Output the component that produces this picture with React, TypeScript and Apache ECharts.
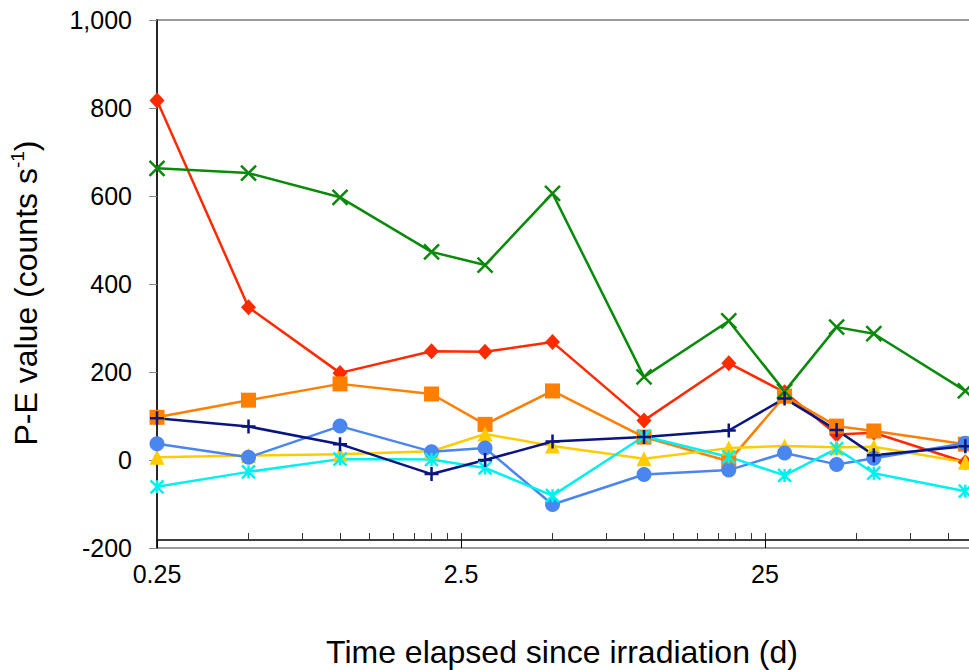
import React, { useEffect, useRef } from 'react';
import * as echarts from 'echarts';

const FONT = '"Liberation Sans", Arial, Helvetica, sans-serif';

// Time elapsed since irradiation (days)
const days = [0.25, 0.5, 1, 2, 3, 5, 10, 19, 29, 43, 57, 114];

// P-E values (counts s-1)
const redDiamond = [817, 347, 198, 247, 246, 268, 90, 220, 154, 58, 62, -5];
const greenCross = [663, 652, 597, 473, 443, 606, 189, 316, 156, 302, 287, 157];
const orangeSquare = [97, 136, 173, 150, 81, 157, 52, -3, 145, 77, 66, 36];
const navyPlus = [95, 76, 36, -32, 0, 42, 52, 67, 140, 68, 11, 31];
const blueCircle = [37, 6, 77, 19, 27, -101, -33, -23, 16, -10, 4, 38];
const yellowTriangle = [6, 10, 13, 20, 59, 32, 3, 27, 32, 29, 30, -5];
const cyanAsterisk = [-61, -27, 2, 1, -18, -81, 54, 7, -35, 26, -30, -71];

// Axis ticks
const xMajorTicks = [0.25, 2.5, 25];
const xMinorMultipliers = [1, 2, 3, 4, 5, 6, 7, 8, 9];
const yMin = -200;
const yMax = 1000;
const yStep = 200;

const X_SYMBOL = 'path://M0,0L10,10M10,0L0,10';
const PLUS_SYMBOL = 'path://M5,0L5,10M0,5L10,5';
const ASTERISK_SYMBOL = 'path://M5,0L5,10M0,0L10,10M10,0L0,10';

const pairs = (vals: number[]) => days.map((d, i) => [d, vals[i]]);

export default function App() {
  const ref = useRef<HTMLDivElement>(null);

  useEffect(() => {
    if (!ref.current) return;
    const chart = echarts.init(ref.current, undefined, { renderer: 'svg' });

    const allTicks: number[] = [];
    xMajorTicks.forEach((base) => {
      xMinorMultipliers.forEach((m) => allTicks.push(base * m));
    });
    allTicks.push(250);

    const filledSeries = (name: string, vals: number[], color: string, symbol: string, size: number | number[]) => ({
      name,
      type: 'line',
      data: pairs(vals),
      symbol,
      symbolSize: size,
      lineStyle: { color, width: 2.5 },
      itemStyle: { color, borderWidth: 0 },
      emphasis: { disabled: true },
    });
    const strokeSeries = (name: string, vals: number[], color: string, symbol: string, size: number) => ({
      name,
      type: 'line',
      data: pairs(vals),
      symbol,
      symbolSize: size,
      lineStyle: { color, width: 2.5 },
      itemStyle: { color, borderColor: color, borderWidth: 2.5 },
      emphasis: { disabled: true },
    });

    const option: any = {
      animation: false,
      backgroundColor: '#ffffff',
      grid: {
        left: 157,
        top: 20,
        bottom: 122,
        right: -100,
        show: true,
        borderColor: '#9a9a9a',
        borderWidth: 2,
        backgroundColor: 'transparent',
        containLabel: false,
        outerBoundsMode: 'none',
      },
      xAxis: [
        {
          type: 'log',
          logBase: 10,
          min: 0.25,
          max: 250,
          position: 'bottom',
          offset: -8,
          axisLine: { show: true, onZero: false, lineStyle: { color: '#000', width: 1.5 } },
          axisTick: {
            show: true,
            inside: false,
            length: 8,
            customValues: xMajorTicks,
            lineStyle: { color: '#000', width: 1 },
          },
          axisLabel: {
            show: true,
            customValues: xMajorTicks,
            fontSize: 25,
            fontFamily: FONT,
            color: '#000',
            margin: 21,
            formatter: (v: number) => String(+Number(v).toPrecision(6)),
          },
          splitLine: { show: false },
          minorTick: { show: false },
        },
        {
          type: 'log',
          logBase: 10,
          min: 0.25,
          max: 250,
          gridIndex: 0,
          position: 'bottom',
          offset: -8,
          axisLine: { show: false, onZero: false },
          axisTick: {
            show: true,
            inside: true,
            length: 7,
            customValues: allTicks,
            lineStyle: { color: '#333', width: 1 },
          },
          axisLabel: { show: false },
          splitLine: { show: false },
          minorTick: { show: false },
        },
      ],
      yAxis: {
        type: 'value',
        min: yMin,
        max: yMax,
        interval: yStep,
        axisLine: { show: true, onZero: false, lineStyle: { color: '#000', width: 1.5 } },
        axisTick: { show: true, length: 8, lineStyle: { color: '#888', width: 1 } },
        axisLabel: {
          fontSize: 25,
          fontFamily: FONT,
          color: '#000',
          margin: 25,
          formatter: (v: number) => v.toLocaleString('en-US'),
        },
        splitLine: { show: false },
      },
      series: [
        filledSeries('Red', redDiamond, '#ff2a00', 'diamond', [15, 16]),
        filledSeries('Orange', orangeSquare, '#ff7f00', 'rect', 15),
        filledSeries('Yellow', yellowTriangle, '#ffcc00', 'triangle', 15),
        filledSeries('Blue', blueCircle, '#4a86f0', 'circle', 15),
        strokeSeries('Green', greenCross, '#0a8a0a', X_SYMBOL, 15),
        strokeSeries('Cyan', cyanAsterisk, '#00f0f0', ASTERISK_SYMBOL, 13),
        strokeSeries('Navy', navyPlus, '#0a1580', PLUS_SYMBOL, 14),
      ],
      graphic: [
        {
          type: 'text',
          x: 562,
          y: 652,
          style: {
            text: 'Time elapsed since irradiation (d)',
            fontSize: 32,
            fontFamily: FONT,
            fill: '#000',
            align: 'center',
            verticalAlign: 'middle',
          },
        },
        {
          type: 'text',
          x: 26,
          y: 293,
          rotation: Math.PI / 2,
          style: {
            text: '{a|P-E value (counts s}{b|-1}{a|)}',
            fontFamily: FONT,
            fill: '#000',
            align: 'center',
            verticalAlign: 'middle',
            rich: {
              a: { fontSize: 32, fontFamily: FONT, fill: '#000', lineHeight: 36 },
              b: { fontSize: 19, fontFamily: FONT, fill: '#000', lineHeight: 18, verticalAlign: 'top' },
            },
          },
        },
      ],
    };

    chart.setOption(option);
    return () => {
      chart.dispose();
    };
  }, []);

  return (
    <div
      ref={ref}
      style={{ position: 'fixed', left: 0, top: 0, width: 969, height: 670, background: '#fff' }}
    />
  );
}
